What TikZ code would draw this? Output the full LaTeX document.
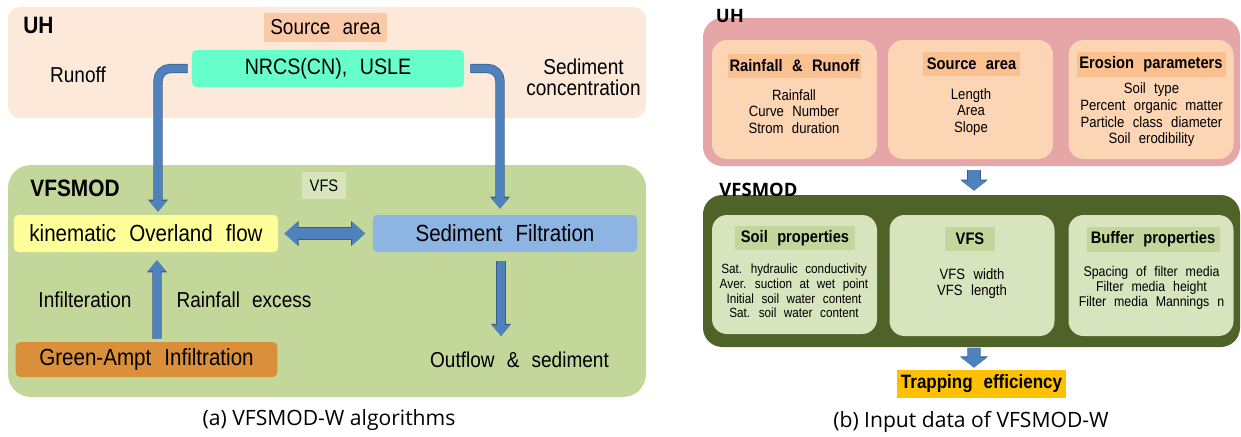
\documentclass[tikz,border=0pt]{standalone}
\usepackage{fontspec}
\setmainfont{Liberation Sans}[FakeStretch=0.88,WordSpace=2.3]
\newfontfamily\capfont{Open Sans}
\usetikzlibrary{arrows.meta,calc}
\newcommand{\setsize}[2]{\fontsize{#1}{#2}\selectfont}
\definecolor{uhbg}{HTML}{FDE9D9}
\definecolor{srchead}{HTML}{FAC9A8}
\definecolor{nrcscol}{HTML}{66FFCC}
\definecolor{vfsbg}{HTML}{C4D79B}
\definecolor{lightsage}{HTML}{D8E4BC}
\definecolor{kincol}{HTML}{FFFF99}
\definecolor{sedcol}{HTML}{8DB4E2}
\definecolor{gacol}{HTML}{DA8F3B}
\definecolor{flow}{HTML}{4F81BD}
\definecolor{flowedge}{HTML}{385D8A}
\definecolor{uhpink}{HTML}{E6A5A6}
\definecolor{uhcell}{HTML}{FCD5B4}
\definecolor{uhhead}{HTML}{FAC090}
\definecolor{vfsdark}{HTML}{4F6228}
\definecolor{vfscellcol}{HTML}{D7E4BD}
\definecolor{vfstitle}{HTML}{C3D69B}
\definecolor{trapcol}{HTML}{FFC000}
\begin{document}
\begin{tikzpicture}[
	x=0.2mm, y=-0.2mm,
	every node/.style={inner sep=0pt, align=center},
	tbox/.style={rounded corners=2.5pt},
	lbl/.style={font=\setsize{12.3}{12}},
	title/.style={font=\bfseries\setsize{13.5}{15}},
	cell/.style={rounded corners=8.5pt, minimum width=33mm, minimum height=23.8mm},
	head/.style={font=\bfseries\setsize{9.5}{11}},
	tag/.style={font=\capfont\bfseries\setsize{10.5}{12}},
	pipe/.style={flow, line width=4.5pt, -{Triangle[length=6.2pt,width=9.8pt]},
		preaction={draw=flowedge, line width=5.3pt, -{Triangle[length=6.9pt,width=11pt]}}},
	fatpipe/.style={flow, line width=6.8pt},
	fatedge/.style={draw=flowedge, line width=7.6pt}
	]
	\useasboundingbox (0,0) rectangle (1241,436);
	% (a) algorithms
	\fill[uhbg, rounded corners=7pt] (8,7) rectangle (646,118);
	\fill[vfsbg, rounded corners=13pt] (8,165) rectangle (646,397);
	\node[title, anchor=west] (uh) at (23,25) {UH};
	\node[lbl, fill=srchead, minimum width=24.6mm, minimum height=5.8mm] (src) at (325.5,27.5) {Source area};
	\node[tbox, fill=nrcscol, minimum width=54.4mm, minimum height=7.4mm, font=\setsize{12.7}{14}] (nrcs) at (328,68.5) {NRCS(CN), USLE};
	\node[lbl] (runoff) at (78,75) {Runoff};
	\node[lbl] (sedconc) at (583.5,77.5) {Sediment\\concentration};
	\node[title, anchor=west] (vfsmod) at (30,188) {VFSMOD};
	\node[fill=lightsage, minimum width=8.7mm, minimum height=5.4mm, font=\setsize{9.5}{11}] (vfs) at (324,185.5) {VFS};
	\node[tbox, fill=kincol, minimum width=52.8mm, minimum height=7.4mm, font=\setsize{13.3}{14}] (kin) at (146,233.5) {kinematic Overland flow};
	\node[tbox, fill=sedcol, minimum width=52.9mm, minimum height=7.4mm, font=\setsize{13.3}{14}] (sedfil) at (505,233.5) {Sediment Filtration};
	\node[tbox, fill=gacol, minimum width=52.3mm, minimum height=7mm, font=\setsize{13.3}{14}] (ga) at (146.5,359.5) {Green-Ampt Infiltration};
	\node[lbl] (infil) at (85,300) {Infilteration};
	\node[lbl] (rainex) at (244,300) {Rainfall excess};
	\node[lbl] (outflow) at (519.5,360) {Outflow \& sediment};
	\coordinate (outtop) at (501,336);
	\draw[pipe, rounded corners=7pt, shorten <=2.3pt, shorten >=1.7pt] (nrcs.west) -| ($(kin.north)+(12,0)$);
	\draw[pipe, rounded corners=7pt, shorten <=3.4pt, shorten >=3.4pt] (nrcs.east) -| ($(sedfil.north)+(-5,0)$);
	\draw[fatpipe, {Triangle[length=7.4pt,width=12.8pt]}-{Triangle[length=7.4pt,width=12.8pt]}, shorten <=3.5pt, shorten >=4.1pt,
		preaction={fatedge, {Triangle[length=8pt,width=13.7pt]}-{Triangle[length=8pt,width=13.7pt]}}] (kin.east) -- (sedfil.west);
	\draw[pipe, shorten <=1.7pt, shorten >=4.5pt] ($(ga.north)+(10.5,0)$) -- ($(kin.south)+(11,0)$);
	\draw[pipe, shorten <=5.1pt] ($(sedfil.south)+(-4,0)$) -- (outtop);
	\node[font=\capfont\setsize{12}{14}] (capa) at (329,420) {(a) VFSMOD-W algorithms};
	% (b) input data
	\node[fill=uhpink, rounded corners=11pt, minimum width=107.4mm, minimum height=29.6mm] (uhpanel) at (971.5,92) {};
	\node[tag] (uhtag) at (730,16) {UH};
	\node[cell, fill=uhcell] (rrcell) at (794.5,99.5) {};
	\node[cell, fill=uhcell] (sacell) at (970.5,99.5) {};
	\node[cell, fill=uhcell] (epcell) at (1151,99.5) {};
	\node[head, fill=uhhead, minimum width=26.6mm, minimum height=4.8mm] (rrhead) at (794.5,66) {Rainfall \& Runoff};
	\node[head, fill=uhhead, minimum width=19.4mm, minimum height=4.8mm] (sahead) at (971.5,64) {Source area};
	\node[head, fill=uhhead, minimum width=29.8mm, minimum height=5mm] (ephead) at (1151,64.5) {Erosion parameters};
	\node[font=\setsize{8.5}{9.4}] (rrtext) at (794,111.5) {Rainfall\\Curve Number\\Strom duration};
	\node[font=\setsize{8.5}{9.4}] (satext) at (971,112) {Length\\Area\\Slope};
	\node[font=\setsize{8.5}{9.5}] (eptext) at (1151.5,115) {Soil type\\Percent organic matter\\Particle class diameter\\Soil erodibility};
	\node[fill=vfsdark, rounded corners=11pt, minimum width=107.4mm, minimum height=30.4mm] (vfspanel) at (971.5,271) {};
	\node[tag] (vfstag) at (758.5,190) {VFSMOD};
	\node[cell, fill=vfscellcol] (soilcell) at (794.5,274.5) {};
	\node[cell, fill=vfscellcol, minimum height=24.2mm] (vfscell) at (972,275.5) {};
	\node[cell, fill=vfscellcol, minimum height=24.2mm] (bufcell) at (1151,275.5) {};
	\node[head, fill=vfstitle, minimum width=24mm, minimum height=4.8mm] (soilhead) at (795,238) {Soil properties};
	\node[head, fill=vfstitle, minimum width=9.9mm, minimum height=4.8mm] (vfshead) at (970,239) {VFS};
	\node[head, fill=vfstitle, minimum width=26.6mm, minimum height=5mm] (bufhead) at (1153,239.5) {Buffer properties};
	\node[font=\setsize{7.6}{8.4}] (soiltext) at (794,291) {Sat. hydraulic conductivity\\Aver. suction at wet point\\Initial soil water content\\Sat. soil water content};
	\node[font=\setsize{8.5}{9.1}] (vfstext) at (972,284) {VFS width\\VFS length};
	\node[font=\setsize{8}{8.5}] (buftext) at (1151.5,288) {Spacing of filter media\\Filter media height\\Filter media Mannings n};
	\node[fill=trapcol, minimum width=33.8mm, minimum height=5.6mm, font=\bfseries\setsize{11}{12}] (trap) at (981.5,384) {Trapping efficiency};
	\draw[fatpipe, -{Triangle[length=5.7pt,width=14.6pt]}, shorten <=2pt, shorten >=2.3pt,
		preaction={fatedge, -{Triangle[length=6.3pt,width=15.4pt]}}] ($(uhpanel.south)+(2.5,0)$) -- ($(vfspanel.north)+(2.5,0)$);
	\draw[fatpipe, -{Triangle[length=5.7pt,width=14.6pt]}, shorten <=0.3pt, shorten >=1.2pt,
		preaction={fatedge, -{Triangle[length=6.3pt,width=15.4pt]}}] ($(vfspanel.south)+(2.5,0)$) -- ($(trap.north)+(-7.5,0)$);
	\node[font=\capfont\setsize{12}{14}] (capb) at (971,422) {(b) Input data of VFSMOD-W};
\end{tikzpicture}
\end{document}
